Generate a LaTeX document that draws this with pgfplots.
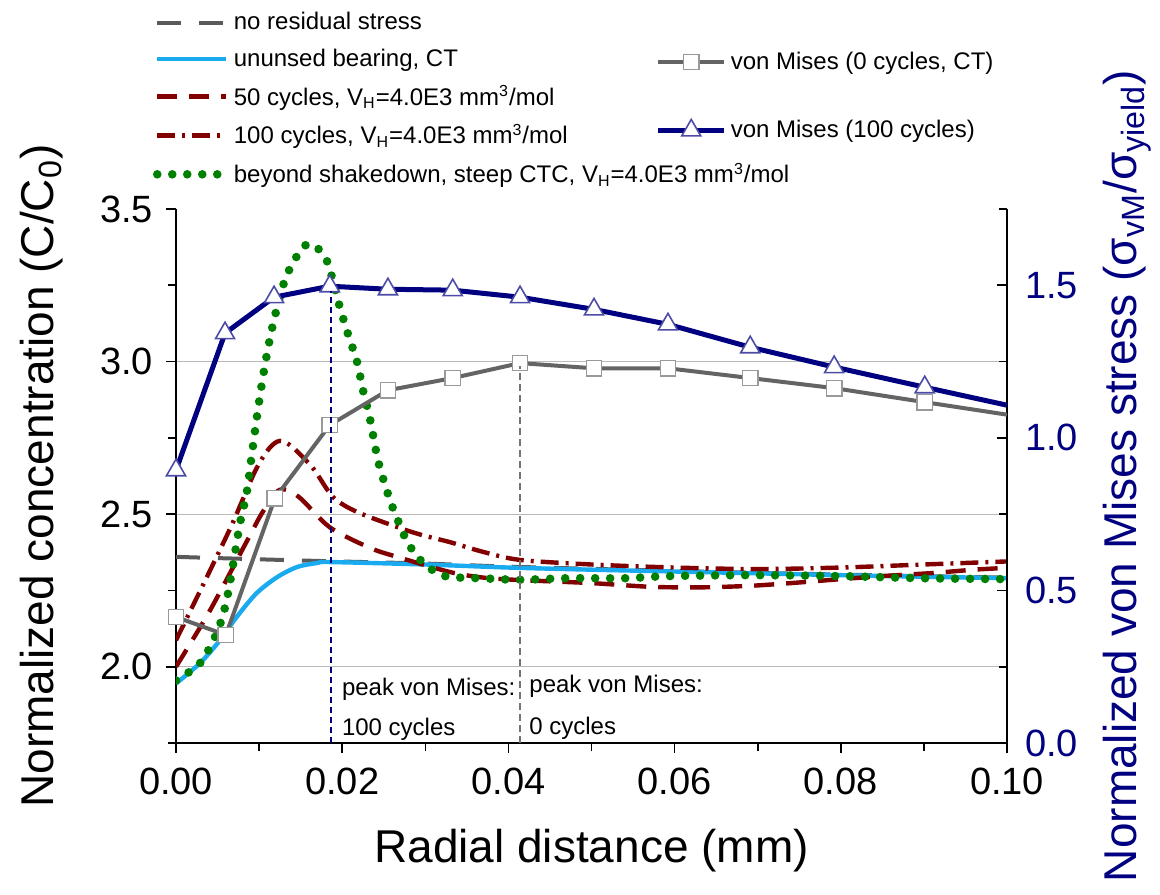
\documentclass[border=0pt]{standalone}
\usepackage{fontspec}
\setmainfont{Liberation Sans}
\usepackage{pgfplots}
\pgfplotsset{compat=1.18}
\definecolor{navyc}{RGB}{0,0,128}
\definecolor{lblue}{RGB}{25,170,240}
\definecolor{dred}{RGB}{130,0,0}
\definecolor{dgreen}{RGB}{0,128,0}
\definecolor{dgrey}{RGB}{90,90,90}
\definecolor{mgrey}{RGB}{100,100,100}
\pgfplotsset{
  mylegimg/.style={legend image code/.code={\draw[mark repeat=2,mark phase=2,##1] plot coordinates {(0cm,0cm) (0.6cm,0cm) (1.2cm,0cm)};}},
  mylegmark/.style={legend image code/.code={\draw[##1,mark indices={2}] plot coordinates {(0cm,0cm) (0.58cm,0cm) (1.16cm,0cm)};}},
}
\begin{document}
\begin{tikzpicture}
\begin{axis}[name=ax,
  scale only axis, width=415.5pt, height=267pt,
  xmin=0, xmax=0.1, ymin=1.75, ymax=3.5,
  axis x line*=bottom, axis y line*=left,
  tick align=outside, major tick length=5pt, minor tick length=4pt,
  tick style={black, line width=0.8pt},
  axis line style={line width=0.8pt},
  xtick={0,0.02,0.04,0.06,0.08,0.1},
  minor xtick={0.01,0.03,0.05,0.07,0.09},
  ytick={2,2.5,3}, extra y ticks={3.5}, extra y tick style={grid=none},
  minor ytick={1.75,2.25,2.75,3.25},
  ymajorgrids, grid style={gray!55, line width=0.6pt},
  scaled x ticks=false,
  xticklabel style={yshift=-4pt, /pgf/number format/.cd, fixed, fixed zerofill, precision=2},
  yticklabel style={xshift=-3pt, /pgf/number format/.cd, fixed, fixed zerofill, precision=1},
  /pgf/number format/assume math mode=true,
  ticklabel style={font=\fontsize{19}{21}\selectfont},
  every axis x label/.style={at={(rel axis cs:0.5,0)}, anchor=base, yshift=-59.5pt},
  every axis y label/.style={at={(rel axis cs:0,0.5)}, rotate=90, anchor=center, yshift=67pt},
  label style={font=\fontsize{23}{26}\selectfont},
  xlabel={Radial distance (mm)},
  ylabel={Normalized concentration (C/C\textsubscript{0})},
  legend style={at={(rel axis cs:-0.033,1.384)}, anchor=north west, draw=none, fill=none,
    font=\fontsize{12}{14}\selectfont, row sep=4pt, inner sep=2pt},
  legend cell align=left, mylegimg,
  clip mode=individual,
]
\addplot[dgrey, line width=2pt, dash pattern=on 12pt off 9pt, smooth] coordinates {
(0,2.36) (0.01,2.352) (0.018,2.346) (0.03,2.338) (0.04,2.328) (0.06,2.314) (0.08,2.302) (0.1,2.292)};
\addlegendentry{no residual stress}
\addplot[lblue, line width=2.2pt, smooth] coordinates {
(0,1.945) (0.0029,2.012) (0.0053,2.087) (0.0073,2.163) (0.0097,2.241) (0.0122,2.294) (0.0146,2.327) (0.017,2.34) (0.0185,2.343) (0.03,2.335) (0.04,2.325) (0.05,2.318) (0.06,2.312) (0.07,2.306) (0.08,2.30) (0.09,2.295) (0.1,2.29)};
\addlegendentry{ununsed bearing, CT}
\addplot[dred, line width=2.2pt, dash pattern=on 10pt off 6pt, smooth] coordinates {
(0,2.0) (0.004,2.18) (0.0085,2.41) (0.0105,2.51) (0.0125,2.58) (0.0148,2.556) (0.0185,2.457) (0.0233,2.39) (0.0266,2.36) (0.033,2.31) (0.037,2.292) (0.0414,2.284) (0.05,2.274) (0.057,2.262) (0.063,2.26) (0.069,2.265) (0.074,2.274) (0.08,2.287) (0.085,2.297) (0.091,2.307) (0.096,2.318) (0.1,2.324)};
\addlegendentry{50 cycles, V\textsubscript{H}=4.0E3 mm\textsuperscript{3}/mol}
\addplot[dred, line width=2.2pt, dash pattern=on 9pt off 3.5pt on 1.5pt off 3.5pt, smooth] coordinates {
(0,2.087) (0.004,2.31) (0.0068,2.47) (0.0095,2.64) (0.0112,2.715) (0.0125,2.74) (0.014,2.72) (0.0165,2.65) (0.0189,2.556) (0.0218,2.507) (0.027,2.454) (0.0298,2.43) (0.033,2.408) (0.037,2.376) (0.0414,2.35) (0.05,2.335) (0.06,2.325) (0.07,2.32) (0.08,2.325) (0.09,2.335) (0.1,2.345)};
\addlegendentry{100 cycles, V\textsubscript{H}=4.0E3 mm\textsuperscript{3}/mol}
\addplot[dgreen, line width=4.3pt, line cap=round, dash pattern=on 0pt off 7.5pt, smooth] coordinates {
(0,1.955) (0.0029,2.012) (0.0049,2.11) (0.0059,2.195) (0.0065,2.277) (0.0071,2.372) (0.0077,2.47) (0.0085,2.569) (0.0091,2.69) (0.0099,2.85) (0.0107,2.988) (0.0117,3.126) (0.0131,3.267) (0.0146,3.348) (0.0159,3.386) (0.0173,3.365) (0.0183,3.32) (0.0197,3.18) (0.0207,3.09) (0.0218,2.998) (0.0225,2.906) (0.0233,2.818) (0.0243,2.677) (0.0254,2.575) (0.0261,2.52) (0.027,2.46) (0.0278,2.41) (0.0288,2.37) (0.0297,2.342) (0.0314,2.307) (0.033,2.294) (0.0366,2.29) (0.0414,2.285) (0.0471,2.29) (0.054,2.29) (0.0593,2.297) (0.0694,2.30) (0.0797,2.297) (0.0898,2.29) (0.1,2.287)};
\addlegendentry{beyond shakedown, steep CTC, V\textsubscript{H}=4.0E3 mm\textsuperscript{3}/mol}
\node[anchor=base west, font=\fontsize{12}{14}\selectfont, inner sep=0pt] at (axis cs:0.01993,1.907) {peak von Mises:};
\node[anchor=base west, font=\fontsize{12}{14}\selectfont, inner sep=0pt] at (axis cs:0.01993,1.776) {100 cycles};
\node[anchor=base west, font=\fontsize{12}{14}\selectfont, inner sep=0pt] at (axis cs:0.04248,1.914) {peak von Mises:};
\node[anchor=base west, font=\fontsize{12}{14}\selectfont, inner sep=0pt] at (axis cs:0.04248,1.779) {0 cycles};
\end{axis}
\begin{axis}[
  scale only axis, width=415.5pt, height=267pt,
  xmin=0, xmax=0.1, ymin=0, ymax=1.75,
  axis x line=none, axis y line*=right,
  tick align=inside, major tick length=5pt, minor tick length=4pt,
  tick style={black, line width=0.8pt},
  axis line style={line width=0.8pt},
  ytick={0,0.5,1,1.5}, minor ytick={0.25,0.75,1.25,1.75},
  yticklabel style={xshift=5.5pt, /pgf/number format/.cd, fixed, fixed zerofill, precision=1},
  /pgf/number format/assume math mode=true,
  ticklabel style={font=\fontsize{19}{21}\selectfont, text=navyc},
  every axis y label/.style={at={(rel axis cs:1,0.5)}, rotate=90, anchor=center, yshift=-60pt},
  label style={font=\fontsize{23}{26}\selectfont, text=navyc},
  ylabel={Normalized von Mises stress (σ\textsubscript{vM}/σ\textsubscript{yield})},
  legend style={at={(rel axis cs:0.572,1.31)}, anchor=north west, draw=none, fill=none,
    font=\fontsize{12}{14}\selectfont, row sep=20pt, inner sep=2pt},
  legend cell align=left, mylegmark,
  clip mode=individual,
]
\addplot[mgrey, line width=2pt, mark=square*, mark size=3.8pt,
  mark options={solid, fill=white, draw=gray!80, line width=0.8pt},
  mark indices={1,2,3,4,5,6,7,8,9,10,11,12}] coordinates {
(0,0.413) (0.006,0.354) (0.0119,0.802) (0.0185,1.042) (0.0255,1.156) (0.0333,1.196) (0.0414,1.245) (0.0503,1.228) (0.0592,1.228) (0.0691,1.196) (0.0792,1.163) (0.0901,1.117) (0.1,1.076)};
\addlegendentry{von Mises (0 cycles, CT)}
\addplot[navyc, line width=2.5pt, mark=triangle*, mark size=5.5pt,
  mark options={solid, fill=white, draw=navyc!70, line width=0.8pt},
  mark indices={1,2,3,4,5,6,7,8,9,10,11,12}] coordinates {
(0,0.894) (0.0059,1.343) (0.0118,1.461) (0.0185,1.497) (0.0255,1.487) (0.0333,1.484) (0.0414,1.461) (0.0503,1.421) (0.0592,1.372) (0.0691,1.297) (0.0792,1.232) (0.0901,1.166) (0.1,1.107)};
\addlegendentry{von Mises (100 cycles)}
\draw[navyc, line width=0.8pt, dash pattern=on 3pt off 2pt] (axis cs:0.01865,0) -- (axis cs:0.01865,1.48);
\draw[gray!90!black, line width=0.8pt, dash pattern=on 3.5pt off 2pt] (axis cs:0.0414,0) -- (axis cs:0.0414,1.235);
\end{axis}
\pgfresetboundingbox
\path ([shift={(-88pt,-75.5pt)}]ax.south west) rectangle ([shift={(76.5pt,104.5pt)}]ax.north east);
\end{tikzpicture}
\end{document}
